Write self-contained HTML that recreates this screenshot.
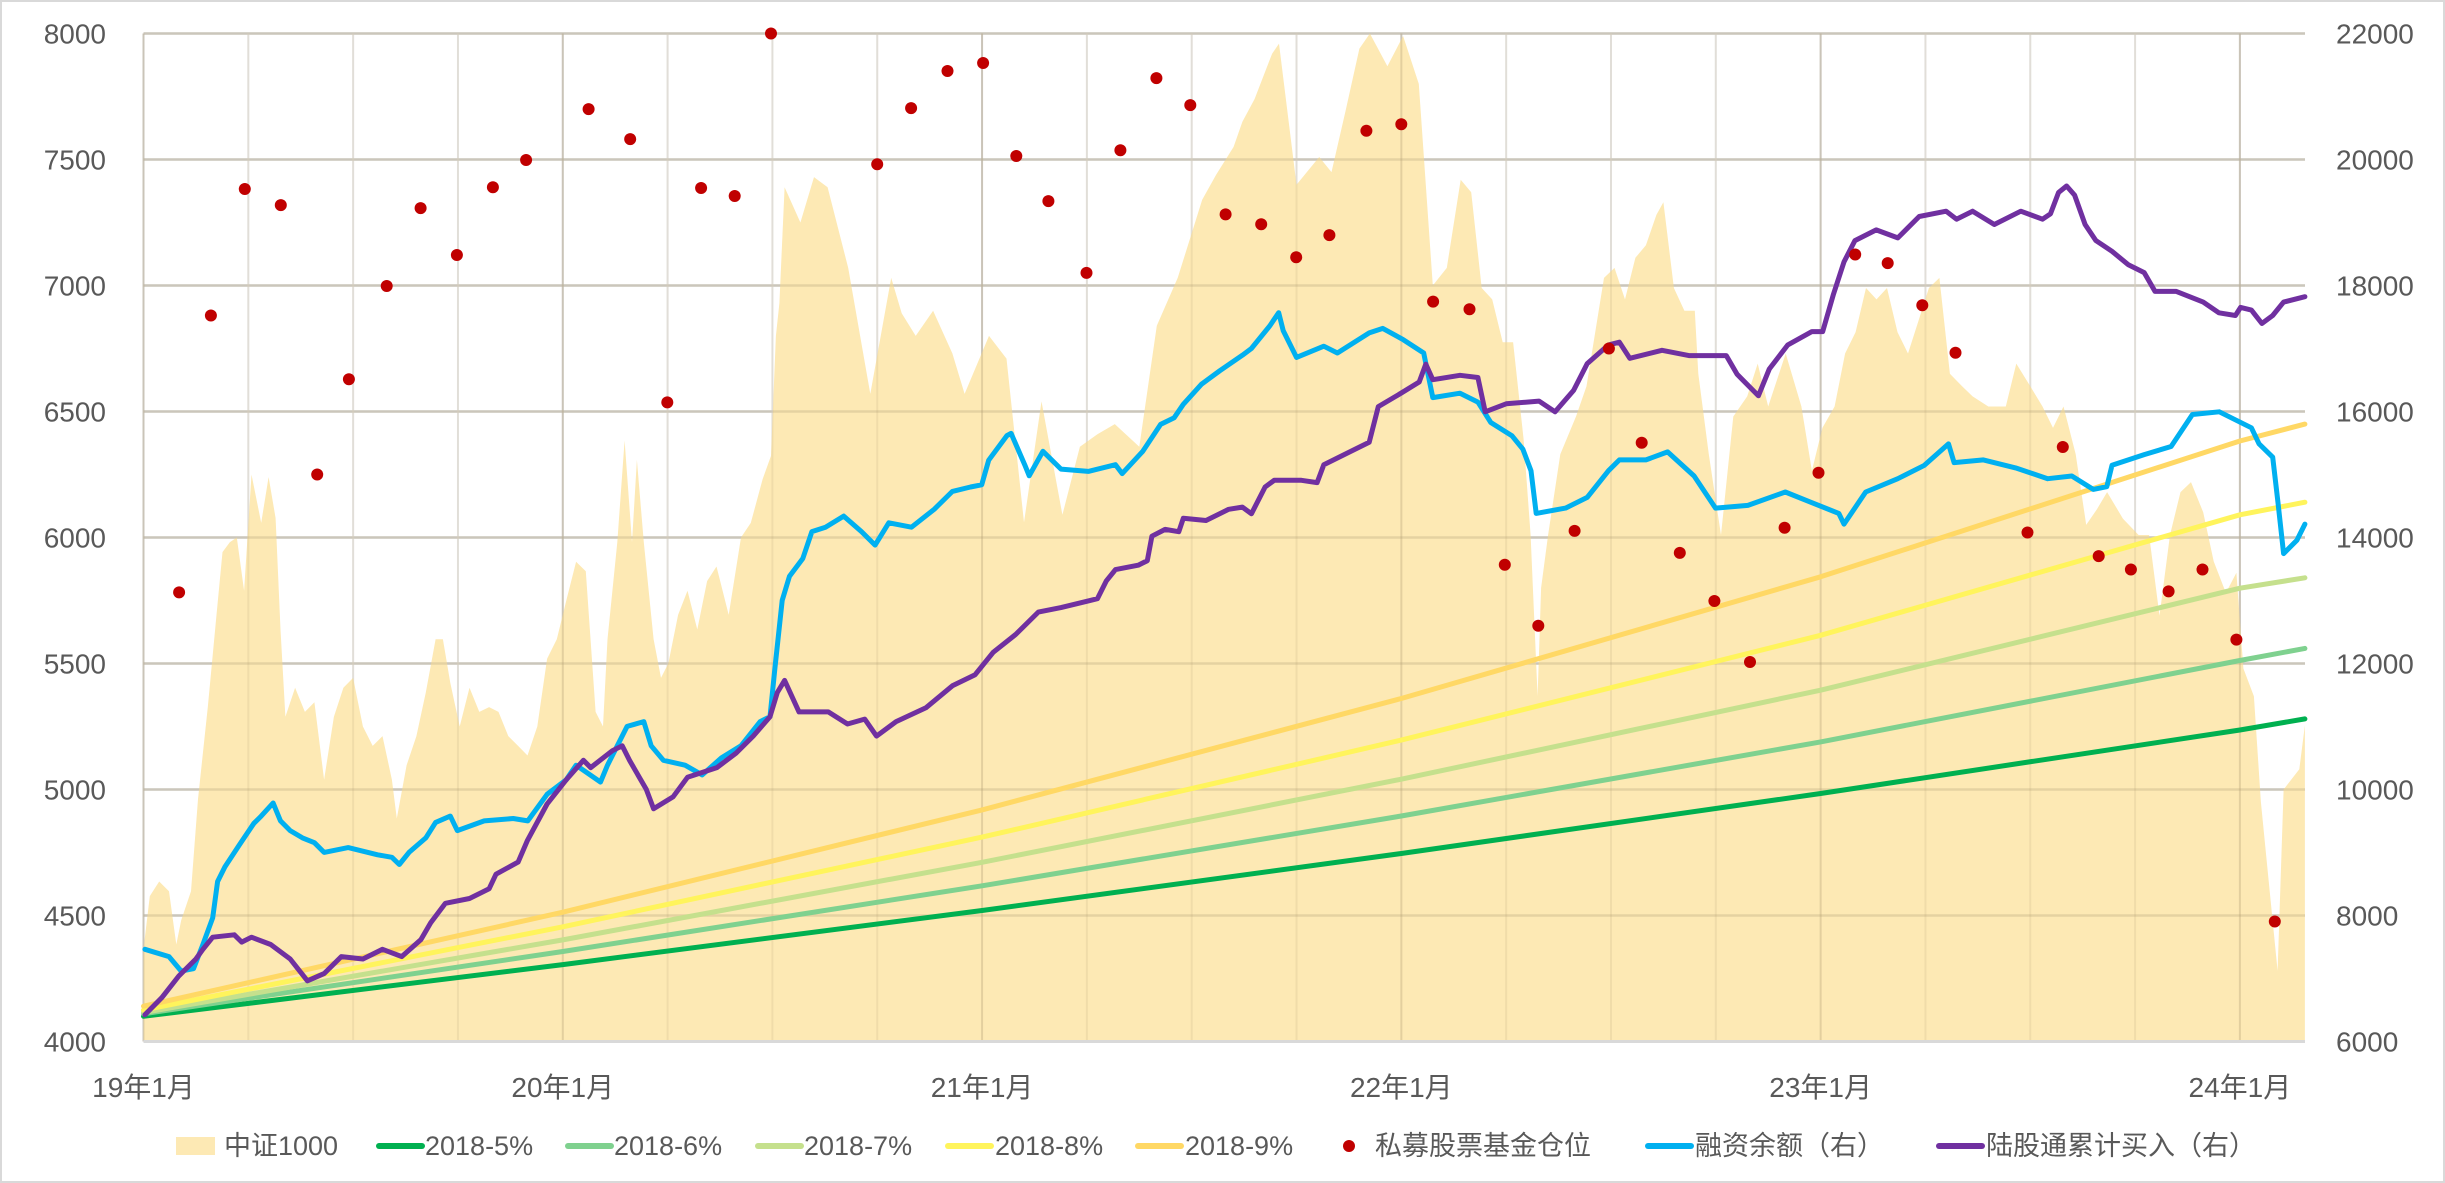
<!DOCTYPE html>
<html><head><meta charset="utf-8">
<style>
html,body{margin:0;padding:0;background:#fff;}
svg{display:block;}
text{font-family:"Liberation Sans","Noto Sans CJK SC",sans-serif;fill:#595959;}
</style></head>
<body>
<svg id="chart" width="2445" height="1183" viewBox="0 0 2445 1183" xmlns="http://www.w3.org/2000/svg">
<rect x="1" y="1" width="2443" height="1181" fill="#fff" stroke="#d9d9d9" stroke-width="2"/>
<g id="grid"></g>
<g id="area"></g>
<g id="grid2"></g>
<g id="lines"></g>
<g id="axes"></g>
<g id="legend"></g>
</svg>
<script>
// ---- data ----
const leftTicks = [4000,4500,5000,5500,6000,6500,7000,7500,8000];
const rightTicks = [6000,8000,10000,12000,14000,16000,18000,20000,22000];
const xLabels = ["19年1月","20年1月","21年1月","22年1月","23年1月","24年1月"];
const xLabelMonths = [0,12,24,36,48,60];

const areaMonths = [0,0.18,0.45,0.73,0.94,1.08,1.36,1.56,1.84,2.09,2.26,2.47,2.67,2.88,3.09,3.37,3.58,3.78,3.92,4.06,4.34,4.62,4.89,5.17,5.45,5.72,6.0,6.28,6.56,6.84,7.11,7.25,7.53,7.81,8.08,8.36,8.57,8.78,9.05,9.33,9.61,9.89,10.16,10.44,10.72,10.99,11.27,11.55,11.83,12.1,12.38,12.66,12.94,13.15,13.28,13.56,13.77,13.98,14.12,14.32,14.6,14.81,15.02,15.3,15.57,15.85,16.13,16.4,16.75,17.1,17.38,17.72,17.96,18.1,18.2,18.35,18.8,19.19,19.58,20.17,20.8,21.4,21.7,22.1,22.6,23.15,23.5,24.2,24.7,25.2,25.7,26.3,26.8,27.3,27.8,28.5,29.0,29.6,30.3,30.7,31.2,31.45,31.8,32.3,32.5,33.0,33.65,34.0,34.4,34.8,35.1,35.6,36.05,36.5,36.9,37.3,37.7,38.0,38.3,38.6,38.9,39.2,39.5,39.7,39.9,40.0,40.2,40.55,41.0,41.3,41.8,42.1,42.4,42.7,43.0,43.3,43.5,43.8,44.1,44.4,44.5,44.8,45.15,45.5,45.9,46.2,46.5,47.0,47.45,47.75,48.05,48.4,48.7,49.0,49.3,49.6,49.9,50.2,50.5,50.8,51.1,51.4,51.7,52.05,52.35,52.8,53.3,53.6,54.0,54.35,54.65,54.95,55.3,55.6,55.9,56.2,56.65,57.1,57.4,57.7,58.0,58.3,58.6,58.95,59.25,59.6,59.9,60.1,60.4,60.6,60.85,61.08,61.25,61.7,61.86];
const areaValues = [4366,4577,4635,4596,4385,4481,4596,4962,5327,5693,5942,5981,6000,5789,6250,6058,6240,6077,5635,5289,5404,5308,5346,5039,5289,5404,5443,5250,5173,5212,5039,4885,5096,5212,5385,5596,5596,5423,5250,5404,5308,5327,5308,5212,5173,5135,5250,5519,5596,5750,5904,5866,5308,5250,5596,5981,6385,5981,6308,5981,5596,5443,5500,5693,5789,5635,5827,5885,5693,6000,6058,6231,6324,6800,6930,7390,7250,7430,7390,7070,6570,7030,6890,6800,6900,6730,6570,6800,6710,6060,6540,6090,6360,6410,6450,6360,6840,7030,7340,7440,7550,7650,7740,7920,7960,7400,7510,7450,7690,7940,8000,7870,7990,7800,7000,7070,7420,7370,6990,6945,6775,6775,6390,6010,5370,5800,6010,6330,6480,6600,7030,7070,6945,7110,7160,7280,7330,6990,6900,6900,6650,6330,6010,6480,6560,6690,6520,6730,6520,6265,6435,6520,6730,6815,6990,6945,6990,6815,6730,6860,6990,7030,6650,6600,6560,6520,6520,6690,6600,6520,6435,6520,6330,6050,6110,6180,6075,6010,6010,5690,6010,6180,6220,6100,5905,5780,5860,5480,5370,4950,4600,4280,5000,5080,5255];

const growthMonths = [0,12,24,36,48,60,61.86];
const growth5 = [4100,4305,4520,4746,4984,5236,5280];
const growth6 = [4110,4357,4618,4895,5189,5512,5560];
const growth7 = [4115,4403,4711,5041,5394,5799,5840];
const growth8 = [4125,4455,4811,5196,5612,6090,6140];
const growth9 = [4140,4513,4919,5361,5844,6383,6450];

const marginMonths = [0.04,0.73,1.08,1.43,1.7,1.98,2.12,2.33,2.74,3.16,3.37,3.71,3.92,4.2,4.55,4.89,5.17,5.86,6.7,7.11,7.32,7.6,8.08,8.36,8.78,8.98,9.75,10.58,11.0,11.55,12.1,12.38,13.08,13.28,13.84,14.32,14.53,14.88,15.5,15.99,16.54,17.1,17.65,17.93,18.07,18.28,18.49,18.87,19.13,19.52,20.04,20.55,20.94,21.33,21.98,22.63,23.15,23.67,23.99,24.19,24.71,24.83,25.22,25.35,25.74,26.26,27.04,27.82,28.01,28.6,29.11,29.5,29.76,30.28,30.8,31.45,31.71,32.23,32.49,32.62,33.0,33.78,34.17,35.08,35.47,36.05,36.64,36.9,37.68,38.19,38.56,39.17,39.48,39.71,39.86,40.7,41.32,41.93,42.24,43.0,43.62,44.38,44.99,45.92,46.99,47.75,48.52,48.67,49.29,50.21,50.97,51.66,51.82,52.66,53.58,54.5,55.19,55.8,56.19,56.34,57.26,58.03,58.64,59.41,60.33,60.55,60.94,61.09,61.25,61.63,61.86];
const marginValues = [7463,7347,7117,7155,7540,7963,8540,8771,9117,9463,9578,9786,9501,9347,9232,9155,9001,9078,8963,8924,8809,9001,9232,9478,9578,9347,9501,9540,9501,9924,10155,10386,10117,10386,11001,11078,10693,10463,10386,10232,10501,10693,11078,11155,11924,13001,13386,13667,14093,14163,14340,14093,13880,14234,14163,14447,14731,14801,14837,15227,15617,15653,15156,14979,15369,15085,15050,15156,15014,15369,15795,15901,16114,16433,16646,16894,17000,17355,17568,17284,16858,17036,16929,17248,17319,17142,16929,16220,16291,16149,15826,15613,15401,15061,14382,14467,14637,15061,15231,15231,15359,14976,14467,14509,14722,14552,14382,14212,14722,14934,15146,15486,15189,15231,15104,14934,14976,14764,14806,15146,15316,15444,15953,15995,15741,15486,15274,14553,13745,13957,14212];

const northMonths = [0.04,0.52,1.01,1.5,1.7,1.98,2.6,2.81,3.09,3.64,4.2,4.69,5.17,5.66,6.28,6.84,7.39,7.94,8.22,8.64,9.33,9.89,10.09,10.72,10.99,11.55,12.1,12.59,12.8,13.42,13.7,13.91,14.39,14.6,15.16,15.57,16.41,16.96,17.45,17.93,18.14,18.35,18.76,19.6,20.15,20.64,20.98,21.54,22.4,23.15,23.8,24.32,24.96,25.61,26.26,27.04,27.3,27.56,27.82,28.47,28.73,28.86,29.24,29.63,29.76,30.41,31.06,31.45,31.71,32.1,32.36,33.14,33.59,33.78,34.56,35.08,35.34,35.99,36.51,36.7,36.9,37.68,38.19,38.4,39.0,39.94,40.4,40.93,41.32,41.93,42.24,42.54,43.46,44.23,45.3,45.61,46.22,46.53,47.06,47.75,48.06,48.37,48.67,48.98,49.59,50.21,50.82,51.59,51.89,52.35,52.97,53.73,54.35,54.58,54.81,55.04,55.27,55.57,55.88,56.34,56.8,57.26,57.57,58.18,58.95,59.4,59.87,60.02,60.33,60.63,60.94,61.25,61.86];
const northValues = [6424,6693,7040,7309,7463,7655,7694,7578,7655,7540,7309,6963,7078,7347,7309,7463,7347,7617,7886,8194,8270,8424,8655,8847,9193,9770,10155,10463,10347,10616,10693,10463,10001,9694,9886,10193,10347,10578,10847,11155,11540,11732,11232,11232,11039,11117,10847,11078,11300,11646,11823,12178,12461,12816,12887,12993,13029,13313,13490,13561,13631,14021,14128,14092,14305,14270,14447,14482,14376,14802,14908,14908,14872,15156,15369,15511,16078,16291,16468,16752,16504,16575,16539,15995,16123,16165,15995,16335,16760,17057,17100,16845,16972,16887,16887,16590,16250,16675,17057,17269,17269,17864,18374,18713,18883,18756,19095,19180,19053,19180,18968,19180,19053,19138,19478,19580,19435,18968,18713,18543,18331,18204,17907,17907,17737,17567,17524,17652,17609,17397,17524,17737,17822];

const fundMonths = [1.02,1.93,2.9,3.93,4.97,5.88,6.96,7.93,8.97,10.0,10.95,12.74,13.93,14.99,15.96,16.92,17.96,21.0,21.97,23.01,24.03,24.98,25.9,26.99,27.96,28.99,29.96,30.97,31.99,32.99,33.94,35.0,36.0,36.91,37.95,38.96,39.92,40.96,41.94,42.88,43.97,44.96,45.98,46.97,47.94,48.99,49.92,50.91,51.86,53.92,54.93,55.96,56.88,57.96,58.93,59.9,61.0];
const fundValues = [5782,6881,7383,7319,6250,6628,6998,7307,7121,7390,7498,7700,7581,6536,7387,7355,8000,7481,7704,7851,7883,7514,7335,7050,7537,7823,7716,7282,7243,7112,7200,7614,7640,6936,6906,5892,5650,6026,6750,6376,5939,5748,5506,6039,6257,7123,7089,6922,6733,6020,6359,5926,5873,5786,5873,5595,4476];

// ---- scales ----
const X0 = 143.5, PX_PER_MONTH = 34.94, XR = 2305;
const Y_TOP = 33.5, Y_BOT = 1041.5;
function xs(m){ return X0 + m*PX_PER_MONTH; }
function yl(v){ return Y_TOP + (8000 - v)/4000*(Y_BOT - Y_TOP); }
function yr(v){ return Y_TOP + (22000 - v)/16000*(Y_BOT - Y_TOP); }

const NS = "http://www.w3.org/2000/svg";
function mk(tag, attrs, parent){
  const e = document.createElementNS(NS, tag);
  for (const k in attrs) e.setAttribute(k, attrs[k]);
  parent.appendChild(e);
  return e;
}
const grid = document.getElementById('grid');
const grid2 = document.getElementById('grid2');
const area = document.getElementById('area');
const lines = document.getElementById('lines');
const axes = document.getElementById('axes');
const legend = document.getElementById('legend');

// gridlines
leftTicks.forEach((t,i)=>{
  if (i===0) return;
  const g = mk('line',{x1:X0,x2:XR,y1:yl(t),y2:yl(t),stroke:'#d9d9d9','stroke-width':2.5},grid);
  
  
  const g2 = mk('line',{x1:X0,x2:XR,y1:yl(t),y2:yl(t),stroke:'rgba(170,150,110,0.28)','stroke-width':2.5},grid2);
  
  
});
for (let m=0; m<=60; m+=3){
  const isYear = m%12===0;
  const g = mk('line',{x1:xs(m),x2:xs(m),y1:Y_TOP,y2:Y_BOT,stroke:isYear?'#d9d9d9':'#ececec','stroke-width':2},grid);
  
  
  const g2 = mk('line',{x1:xs(m),x2:xs(m),y1:Y_TOP,y2:Y_BOT,stroke:isYear?'rgba(170,150,110,0.3)':'rgba(170,150,110,0.15)','stroke-width':2},grid2);
  
  
}

// area
let d = 'M'+xs(areaMonths[0])+','+Y_BOT;
areaMonths.forEach((m,i)=>{ d += ' L'+xs(m).toFixed(1)+','+yl(areaValues[i]).toFixed(1); });
d += ' L'+xs(areaMonths[areaMonths.length-1])+','+Y_BOT+' Z';
const ap = mk('path',{d:d,fill:'#fde9b4'},area);



function polyline(ms, vs, yf, color, w, name){
  const pts = ms.map((m,i)=> xs(m).toFixed(1)+','+yf(vs[i]).toFixed(1)).join(' ');
  const p = mk('polyline',{points:pts,fill:'none',stroke:color,'stroke-width':w,'stroke-linejoin':'round','stroke-linecap':'round'},lines);
  
  
}
polyline(growthMonths, growth5, yl, '#00b050', 5, 'line-2018-5pct');
polyline(growthMonths, growth6, yl, '#7fd18f', 5, 'line-2018-6pct');
polyline(growthMonths, growth7, yl, '#c5e08d', 5, 'line-2018-7pct');
polyline(growthMonths, growth8, yl, '#fff45c', 5, 'line-2018-8pct');
polyline(growthMonths, growth9, yl, '#ffd865', 5, 'line-2018-9pct');
polyline(marginMonths, marginValues, yr, '#00b0f0', 5, 'margin-balance-line');
polyline(northMonths, northValues, yr, '#7030a0', 5, 'northbound-line');

fundMonths.forEach((m,i)=>{
  const c = mk('circle',{cx:xs(m).toFixed(1),cy:yl(fundValues[i]).toFixed(1),r:6,fill:'#c00000'},lines);
  
  
});

// axes
const base = mk('line',{x1:X0,x2:XR,y1:Y_BOT,y2:Y_BOT,stroke:'#d9d9d9','stroke-width':3},axes);


leftTicks.forEach(t=>{
  const tx = mk('text',{x:106,y:yl(t)+10,'text-anchor':'end','font-size':28},axes);
  tx.textContent = t;
  
  
});
rightTicks.forEach(t=>{
  const tx = mk('text',{x:2336,y:yr(t)+10,'text-anchor':'start','font-size':28},axes);
  tx.textContent = t;
  
  
});
xLabels.forEach((lab,i)=>{
  const tx = mk('text',{x:xs(xLabelMonths[i]),y:1097,'text-anchor':'middle','font-size':28},axes);
  tx.textContent = lab;
  
  
});

// legend
const LY = 1146;
function legText(x, s){
  const t = mk('text',{x:x,y:LY+9,'font-size':27},legend);
  t.textContent = s;
  
  
}
function legLine(x, color){
  const l = mk('line',{x1:x,x2:x+43,y1:LY,y2:LY,stroke:color,'stroke-width':6,'stroke-linecap':'round'},legend);
  
  
}
const sw = mk('rect',{x:176,y:1137,width:39,height:18,fill:'#fde9b4'},legend);


legText(224,'中证1000');
legLine(379,'#00b050'); legText(425,'2018-5%');
legLine(568,'#7fd18f'); legText(614,'2018-6%');
legLine(758,'#c5e08d'); legText(804,'2018-7%');
legLine(948,'#fff45c'); legText(995,'2018-8%');
legLine(1138,'#ffd865'); legText(1185,'2018-9%');
const ld = mk('circle',{cx:1349,cy:LY,r:6,fill:'#c00000'},legend);


legText(1375,'私募股票基金仓位');
legLine(1648,'#00b0f0'); legText(1695,'融资余额（右）');
legLine(1939,'#7030a0'); legText(1986,'陆股通累计买入（右）');
</script>
</body></html>
